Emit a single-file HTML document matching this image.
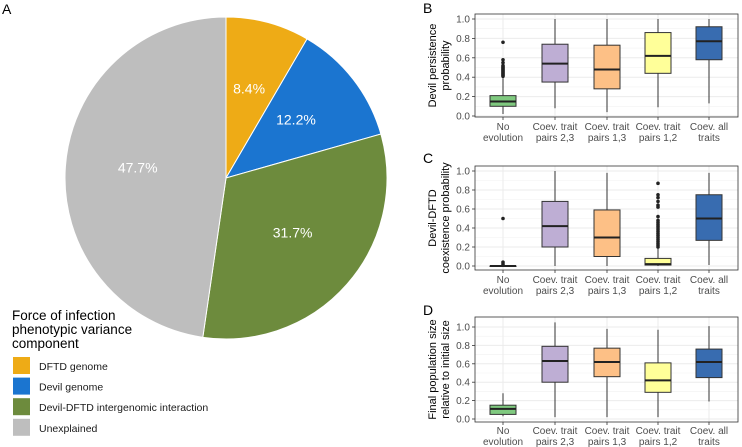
<!DOCTYPE html>
<html><head><meta charset="utf-8"><style>
body{margin:0;background:#fff;font-family:"Liberation Sans",sans-serif}
svg{display:block}
</style></head><body>
<svg id="fig" width="742" height="447" xmlns="http://www.w3.org/2000/svg" font-family="Liberation Sans, sans-serif"></svg>
<script>
const pieLabels=["DFTD genome","Devil genome","Devil-DFTD intergenomic interaction","Unexplained"];
const pieValues=[8.4,12.2,31.7,47.7];
const pieColors=["#eeab16","#1b75d0","#6d8b3d","#bebebe"];
const categories=["No|evolution","Coev. trait|pairs 2,3","Coev. trait|pairs 1,3","Coev. trait|pairs 1,2","Coev. all|traits"];
const boxColors=["#7fc97f","#beaed4","#fdc086","#ffff99","#386cb0"];
const yTicks=[0,0.2,0.4,0.6,0.8,1.0];
const tickLabels=["0.0","0.2","0.4","0.6","0.8","1.0"];
// each: [lowWhisker,q1,median,q3,highWhisker]
const statsB=[[0.02,0.10,0.15,0.21,0.39],[0.08,0.35,0.54,0.74,1.0],[0.04,0.28,0.48,0.73,1.0],[0.09,0.44,0.62,0.86,1.0],[0.13,0.58,0.77,0.92,1.0]];
const outB=[[0.41,0.42,0.43,0.44,0.45,0.46,0.47,0.48,0.49,0.5,0.51,0.52,0.55,0.58,0.76],[],[],[],[]];
const statsC=[[0,0,0,0,0],[0,0.2,0.42,0.68,1.0],[0,0.1,0.3,0.59,0.98],[0,0.01,0.02,0.08,0.19],[0.01,0.27,0.5,0.75,0.98]];
const outC=[[0.02,0.04,0.5],[],[],[0.2,0.22,0.24,0.26,0.28,0.3,0.32,0.34,0.36,0.38,0.4,0.42,0.44,0.46,0.48,0.52,0.62,0.64,0.68,0.72,0.75,0.87],[]];
const statsD=[[0.03,0.05,0.11,0.15,0.28],[0.02,0.40,0.63,0.79,1.05],[0.02,0.46,0.62,0.77,0.98],[0.02,0.29,0.42,0.61,0.97],[0.19,0.45,0.62,0.76,1.01]];
const outD=[[],[],[],[],[]];

const svg=document.getElementById('fig');
const NS="http://www.w3.org/2000/svg";
function mk(tag,attrs,parent){const e=document.createElementNS(NS,tag);for(const k in attrs)e.setAttribute(k,attrs[k]);(parent||svg).appendChild(e);return e;}
function txt(s,attrs,parent){const e=mk('text',attrs,parent);e.textContent=s;return e;}

// Panel letters
[["A",2,14],["B",423,13],["C",423,163],["D",423,315]].forEach(p=>{
 const t=txt(p[0],{x:p[1],y:p[2],'font-size':14,fill:'#000'});
 
 
});

// Pie
const cx=226,cy=178,r=161;
const pg=mk('g',{});


const total=pieValues.reduce((a,b)=>a+b,0);
let acc=0;
pieValues.forEach((v,i)=>{
 const a0=acc/total*2*Math.PI; acc+=v; const a1=acc/total*2*Math.PI;
 const p=(a)=>[cx+r*Math.sin(a),cy-r*Math.cos(a)];
 const [x0,y0]=p(a0),[x1,y1]=p(a1);
 const large=(a1-a0)>Math.PI?1:0;
 const s=mk('path',{d:`M${cx},${cy}L${x0},${y0}A${r},${r} 0 ${large} 1 ${x1},${y1}Z`,fill:pieColors[i],stroke:'#fff','stroke-width':1},pg);
 
 
 const am=(a0+a1)/2, lr=r*0.55;
 const l=txt(v.toFixed(1)+'%',{x:cx+lr*Math.sin(am),y:cy-lr*Math.cos(am)+1,'text-anchor':'middle','font-size':14,fill:'#fff'},pg);
 
 
});

// Legend
const lg=mk('g',{});


["Force of infection","phenotypic variance","component"].forEach((s,i)=>{
 const t=txt(s,{x:12,y:320+i*14,'font-size':13.5,fill:'#000'},lg);
 
 
});
pieLabels.forEach((s,i)=>{
 const y=357+i*20.6;
 const k=mk('rect',{x:13,y:y,width:17,height:17,fill:pieColors[i]},lg);
 
 
 const t=txt(s,{x:39,y:y+13,'font-size':10.5,fill:'#1a1a1a'},lg);
 
 
});

// Box panels
const xCenters=[503,555,607,658,709];
function panel(name,top,bottom,y0,y1,stats,outs,ylab,labOff){
 const g=mk('g',{});
 
 
 const L=475,R=738;
 const ys=v=>y0+(y1-y0)*v;
 mk('rect',{x:L,y:top,width:R-L,height:bottom-top,fill:'#fff'},g);
 for(let i=0;i<5;i++){const v=(yTicks[i]+yTicks[i+1])/2;mk('line',{x1:L,x2:R,y1:ys(v),y2:ys(v),stroke:'#f2f2f2','stroke-width':0.6},g);}
 yTicks.forEach((v,i)=>{
  mk('line',{x1:L,x2:R,y1:ys(v),y2:ys(v),stroke:'#ebebeb','stroke-width':1},g);
  mk('line',{x1:L-3,x2:L,y1:ys(v),y2:ys(v),stroke:'#333','stroke-width':0.8},g);
  const t=txt(tickLabels[i],{x:L-5,y:ys(v)+3.5,'text-anchor':'end','font-size':10,fill:'#4d4d4d'},g);
  
  
 });
 xCenters.forEach(x=>mk('line',{x1:x,x2:x,y1:top,y2:bottom,stroke:'#ebebeb','stroke-width':1},g));
 const bw=26;
 stats.forEach((s,i)=>{
  const x=xCenters[i];
  const bg=mk('g',{},g);
  
  
  mk('line',{x1:x,x2:x,y1:ys(s[0]),y2:ys(s[4]),stroke:'#333','stroke-width':1},bg);
  mk('rect',{x:x-bw/2,y:ys(s[3]),width:bw,height:Math.max(0.5,ys(s[1])-ys(s[3])),fill:boxColors[i],stroke:'#333','stroke-width':1},bg);
  mk('line',{x1:x-bw/2,x2:x+bw/2,y1:ys(s[2]),y2:ys(s[2]),stroke:'#222','stroke-width':2},bg);
  outs[i].forEach(o=>{
   const c=mk('circle',{cx:x,cy:ys(o),r:1.8,fill:'#222'},bg);
   
   
  });
  const parts=categories[i].split('|');
  parts.forEach((p,j)=>{
   const t=txt(p,{x:x,y:bottom+labOff+j*11,'text-anchor':'middle','font-size':10,fill:'#4d4d4d'},g);
   
   
  });
  mk('line',{x1:x,x2:x,y1:bottom,y2:bottom+3,stroke:'#333','stroke-width':0.8},g);
 });
 mk('rect',{x:L,y:top,width:R-L,height:bottom-top,fill:'none',stroke:'#333','stroke-width':0.8},g);
 const my=(top+bottom)/2;
 ylab.forEach((s,j)=>{
  const xx=436+j*13;
  const t=txt(s,{x:xx,y:my,'text-anchor':'middle','font-size':11,fill:'#000',transform:`rotate(-90 ${xx} ${my})`},g);
  
  
 });
}
panel('panel-b-persistence',14,117,116,19,statsB,outB,["Devil persistence","probability"],13);
panel('panel-c-coexistence',166,270,266,171,statsC,outC,["Devil-DFTD","coexistence probability"],13);
panel('panel-d-population',317,422,419,327,statsD,outD,["Final population size","relative to initial size"],12);
</script>
</body></html>
